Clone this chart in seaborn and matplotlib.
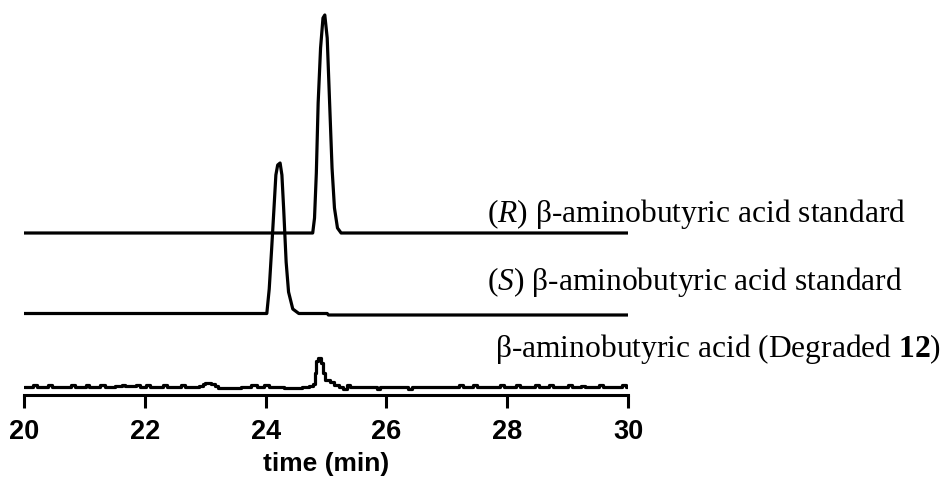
import numpy as np
import seaborn as sns
import matplotlib.pyplot as plt

# chromatogram traces, time (min) vs signal (height above each trace's baseline)
r_time = [20.00, 24.78, 24.81, 24.84, 24.87, 24.91, 24.95, 24.98, 25.02,
          25.06, 25.10, 25.14, 25.19, 25.25, 30.00]
r_signal = [0, 0, 15, 60, 130, 185, 215, 218, 195, 130, 65, 25, 5, 0, 0]

s_time = [20.00, 24.02, 24.06, 24.10, 24.14, 24.17, 24.20, 24.24, 24.27,
          24.30, 24.34, 24.38, 24.45, 24.55, 25.02, 25.04, 30.00]
s_signal = [1.5, 1.5, 26, 66, 108, 140, 150, 152, 140, 105, 53, 23, 6, 1.5,
            1.5, 0, 0]

deg_time = [20.00, 20.15, 20.22, 20.40, 20.47, 20.77, 20.84, 21.02, 21.08,
            21.26, 21.34, 21.50, 21.62, 21.68, 21.85, 21.92, 22.02, 22.08,
            22.30, 22.36, 22.60, 22.66, 22.90, 22.96, 23.00, 23.10, 23.16,
            23.22, 23.60, 23.75, 23.85, 23.98, 24.05, 24.30, 24.60, 24.72,
            24.78, 24.81, 24.84, 24.87, 24.92, 24.95, 24.99, 25.06, 25.14,
            25.22, 25.28, 25.34, 25.40, 25.84, 25.90, 26.36, 26.42, 26.60,
            27.20, 27.26, 27.44, 27.50, 27.70, 27.88, 27.95, 28.15, 28.22,
            28.46, 28.52, 28.70, 28.76, 29.01, 29.08, 29.22, 29.28, 29.52,
            29.58, 29.90, 29.96, 30.00]
deg_signal = [0, 2, 0, 2, 0, 2, 0, 2, 0,
              2, 0, 1, 2.5, 1, 2, 0.5, 2, 0,
              2, 0, 2, 0, 1, 3, 4.5, 3, 1.5,
              -0.5, 0.5, 2, 0.5, 2, 0, -0.5, 0, 1,
              3, 14, 26, 29, 24, 14, 7, 5, 2,
              0, -1.5, 2, 0, -1.5, 0, -1.5, 0, 0.5,
              2, 0.5, 2, 0, 0.5, 2, 0, 2, 0,
              2, 0, 2, 0, 2, 0, 1.5, 0, 2,
              0, 2.5, 0, 0]

x_ticks = [20, 22, 24, 26, 28, 30]

# vertical offsets of the stacked traces
r_offset = 162
s_offset = 80
deg_offset = 8

sns.set_style("white")
plt.rcParams["font.family"] = ["Liberation Serif", "DejaVu Serif"]
plt.rcParams["mathtext.fontset"] = "custom"
plt.rcParams["mathtext.rm"] = "Liberation Serif"
plt.rcParams["mathtext.it"] = "Liberation Serif:italic"
plt.rcParams["mathtext.bf"] = "Liberation Serif:bold"
plt.rcParams["text.color"] = "black"
plt.rcParams["axes.labelcolor"] = "black"
plt.rcParams["xtick.color"] = "black"
plt.rcParams["xtick.labelcolor"] = "black"

fig = plt.figure(figsize=(9.5, 4.84), dpi=100)
ax = fig.add_axes([24 / 950, 89 / 484, 604 / 950, 390 / 484])

lw = 2.3
sns.lineplot(x=r_time, y=np.array(r_signal) + r_offset, ax=ax, color="black",
             lw=lw, estimator=None, sort=False)
sns.lineplot(x=s_time, y=np.array(s_signal) + s_offset, ax=ax, color="black",
             lw=lw, estimator=None, sort=False)
sns.lineplot(x=deg_time, y=np.array(deg_signal) + deg_offset, ax=ax,
             color="black", lw=lw, estimator=None, sort=False,
             drawstyle="steps-post")

ax.set_xlim(20, 30)
ax.set_ylim(0, 390)

for side in ["top", "right", "left"]:
    ax.spines[side].set_visible(False)
ax.spines["bottom"].set_linewidth(2.2)
ax.spines["bottom"].set_color("black")

ax.set_xticks(x_ticks)
ax.set_xticklabels([str(t) for t in x_ticks], fontfamily="Liberation Sans",
                   fontweight="bold", fontsize=19.5, color="black")
ax.set_yticks([])
ax.tick_params(axis="x", direction="out", length=9, width=2.2,
               color="black", pad=8, bottom=True)
ax.set_xlabel("time (min)", fontfamily="Liberation Sans", fontweight="bold",
              fontsize=19, labelpad=5, color="black")

txt_size = 22.7
ax.text(27.67, 173, r"(" + r"$\it{R}$" + r") β-aminobutyric acid standard",
        fontsize=txt_size, va="baseline", ha="left", color="black")
ax.text(27.67, 105, r"(" + r"$\it{S}$" + r") β-aminobutyric acid standard",
        fontsize=txt_size, va="baseline", ha="left", color="black")
ax.text(27.80, 38, r"β-aminobutyric acid (Degraded $\mathbf{12}$)",
        fontsize=txt_size, va="baseline", ha="left", color="black")

fig.savefig("out.png", dpi=100)
